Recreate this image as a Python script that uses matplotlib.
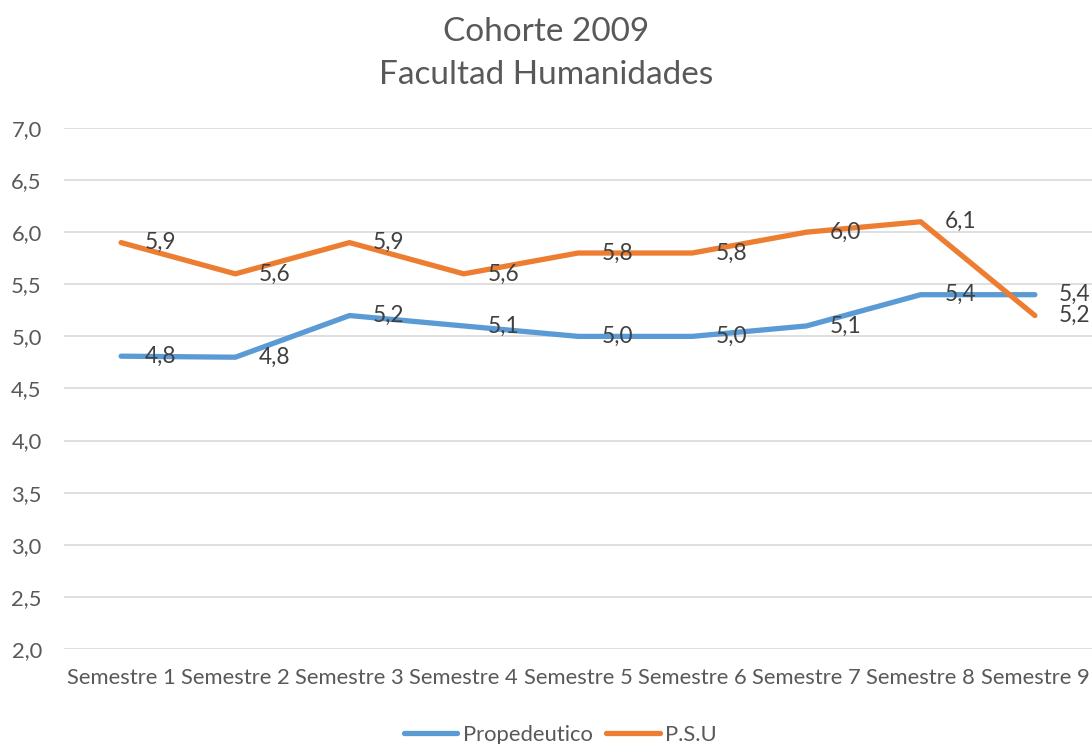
import numpy as np
import matplotlib.pyplot as plt

semestres = ['Semestre 1', 'Semestre 2', 'Semestre 3', 'Semestre 4', 'Semestre 5',
             'Semestre 6', 'Semestre 7', 'Semestre 8', 'Semestre 9']
propedeutico = [4.81, 4.80, 5.20, 5.10, 5.00, 5.00, 5.10, 5.40, 5.40]
psu = [5.90, 5.60, 5.90, 5.60, 5.80, 5.80, 6.00, 6.10, 5.20]

plt.rcParams['font.family'] = ['Lato', 'DejaVu Sans']

fig = plt.figure(figsize=(10.92, 7.44), dpi=100)
ax = fig.add_axes([0.0586, 0.1277, 0.9414, 0.7003])

x = np.arange(len(semestres))
ax.plot(x, propedeutico, color='#5B9BD5', lw=3.8, solid_capstyle='round', label='Propedeutico', zorder=3)
ax.plot(x, psu, color='#ED7D31', lw=3.8, solid_capstyle='round', label='P.S.U', zorder=3)

for xi, v in zip(x, propedeutico):
    ax.annotate(f'{v:.1f}'.replace('.', ','), (xi, v), xytext=(17, 0), textcoords='offset points',
                ha='left', va='center', fontsize=16.3, color='#404040', zorder=4)
for xi, v in zip(x, psu):
    ax.annotate(f'{v:.1f}'.replace('.', ','), (xi, v), xytext=(17, 0), textcoords='offset points',
                ha='left', va='center', fontsize=16.3, color='#404040', zorder=4)

ax.set_xlim(-0.5, 8.5)
ax.set_ylim(2.0, 7.0)
ax.set_yticks(np.arange(2.0, 7.01, 0.5))
ax.set_yticklabels([f'{t:.1f}'.replace('.', ',') for t in np.arange(2.0, 7.01, 0.5)])
ax.set_xticks(x)
ax.set_xticklabels(semestres)
ax.tick_params(axis='both', length=0, labelsize=15.8, labelcolor='#595959')
ax.tick_params(axis='y', pad=16)
ax.tick_params(axis='x', pad=14)
ax.grid(axis='y', color='#D9D9D9', lw=1.2)
ax.set_axisbelow(True)
for s in ax.spines.values():
    s.set_visible(False)

fig.suptitle('Cohorte 2009\nFacultad Humanidades', y=0.977, fontsize=24, color='#595959',
             linespacing=1.55)

fig.legend(loc='lower center', bbox_to_anchor=(0.513, -0.028), ncol=2, frameon=False,
           fontsize=15.8, labelcolor='#595959', handlelength=2.45, handletextpad=0.25,
           columnspacing=0.6)

fig.savefig('out.png', dpi=100)
